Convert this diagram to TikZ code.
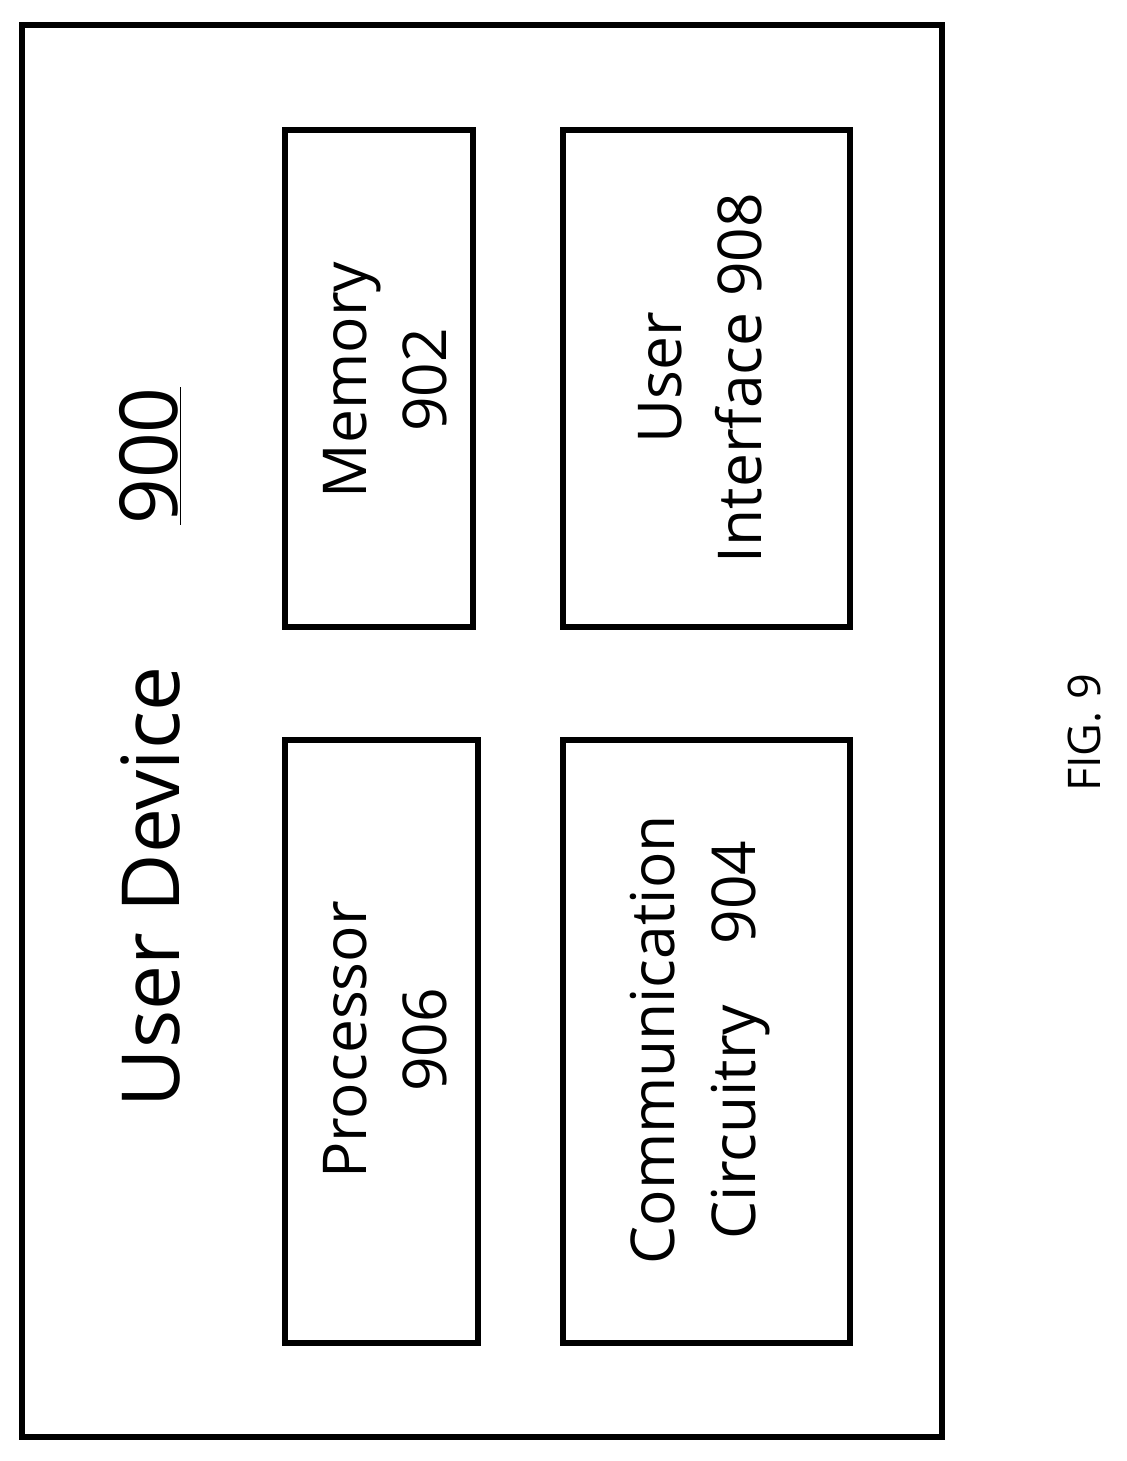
\documentclass[tikz,border=0pt]{standalone}
\usepackage{fontspec}
\setmainfont{Open Sans}
\tikzset{
  blockbox/.style={draw, line width=3.8pt},
  blocklabel/.style={rotate=90, align=center, font=\fontsize{43}{57}\selectfont},
}
\begin{document}
\begin{tikzpicture}[x=0.25mm,y=-0.25mm]
  \useasboundingbox (0,0) rectangle (1126,1461);

  % outer device
  \draw[blockbox] (22,25) rectangle (942,1437);
  \node[rotate=90, font=\fontsize{57}{70}\selectfont] (title) at (150,887) {User Device};
  \node[rotate=90, font=\fontsize{57}{70}\selectfont] (num) at (150,456) {\underline{900}};

  % blocks
  \draw[blockbox] (285,130) rectangle (473,627);
  \node[blocklabel] (mem) at (385,380) {Memory\\902};
  \draw[blockbox] (563,130) rectangle (850,627);
  \node[blocklabel] (ui) at (700,378) {User\\Interface 908};
  \draw[blockbox] (285,740) rectangle (478,1343);
  \node[blocklabel] (proc) at (385,1040) {Processor\\906};
  \draw[blockbox] (563,740) rectangle (850,1343);
  \node[blocklabel] (comm) at (700,1040) {Communication\\Circuitry\quad 904};

  \node[rotate=90, font=\fontsize{32}{40}\selectfont] (fig) at (1085,733) {FIG. 9};
\end{tikzpicture}
\end{document}
